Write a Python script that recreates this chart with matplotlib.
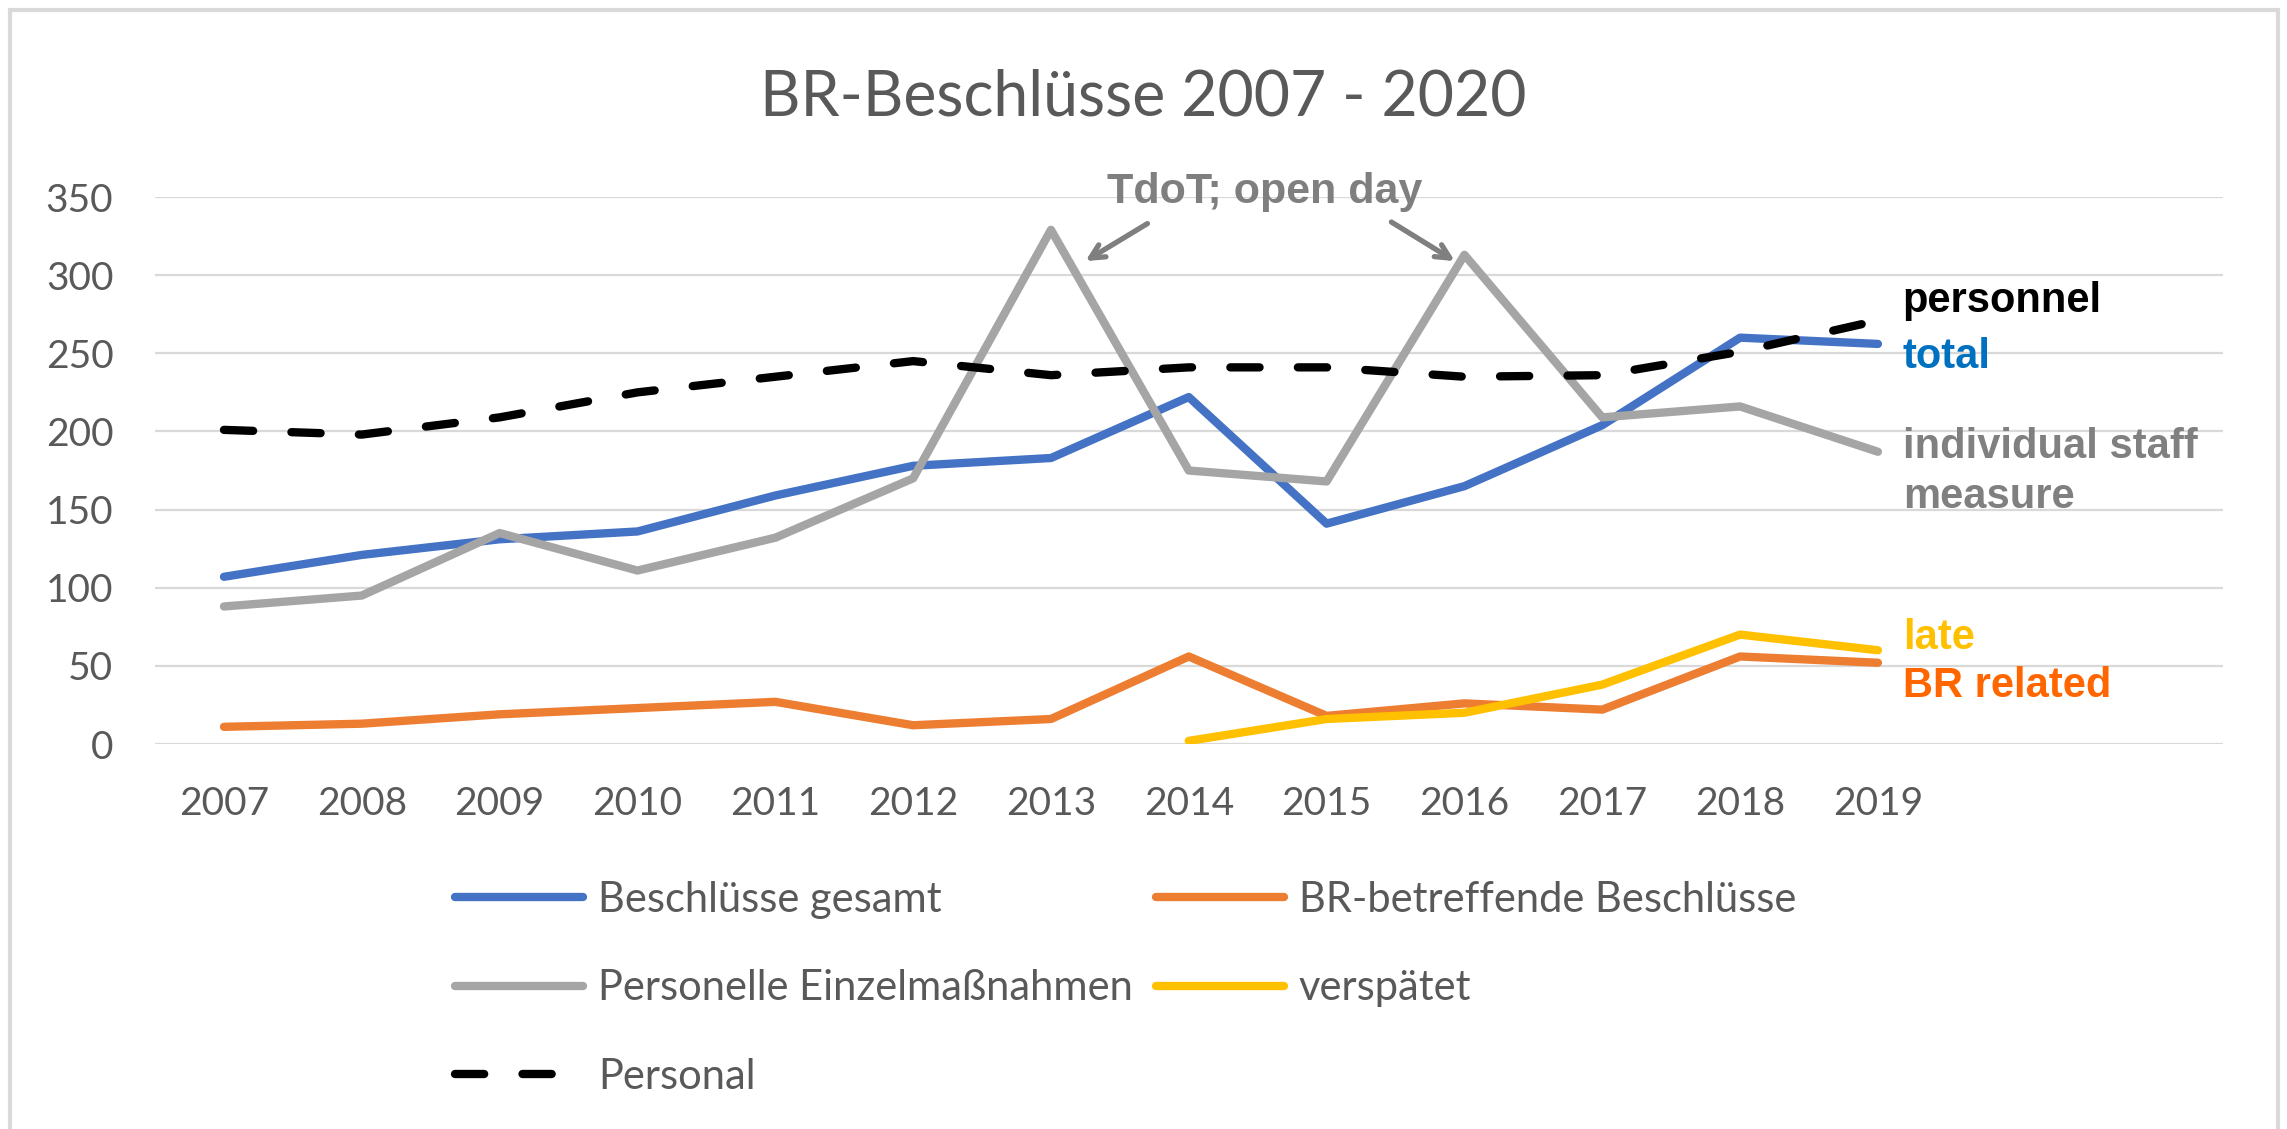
import matplotlib
matplotlib.use("Agg")
import matplotlib.pyplot as plt
from matplotlib.patches import Rectangle

# ---------------------------------------------------------------------------
# Data
# ---------------------------------------------------------------------------
years = [2007, 2008, 2009, 2010, 2011, 2012, 2013,
         2014, 2015, 2016, 2017, 2018, 2019]
gesamt = [107, 121, 131, 136, 159, 178, 183, 222, 141, 165, 204, 260, 256]
br_betreffend = [11, 13, 19, 23, 27, 12, 16, 56, 18, 26, 22, 56, 52]
einzelmassnahmen = [88, 95, 135, 111, 132, 170, 329, 175, 168, 313, 209, 216, 187]
years_late = [2014, 2015, 2016, 2017, 2018, 2019]
verspaetet = [2, 16, 20, 38, 70, 60]
personal = [201, 198, 209, 225, 235, 245, 236, 241, 241, 235, 236, 251, 271]

title = "BR-Beschlüsse 2007 - 2020"
legend_labels = ["Beschlüsse gesamt", "BR-betreffende Beschlüsse",
                 "Personelle Einzelmaßnahmen", "verspätet", "Personal"]

# ---------------------------------------------------------------------------
# Style
# ---------------------------------------------------------------------------
COL_BLUE = "#4472C4"
COL_ORANGE = "#ED7D31"
COL_GRAY = "#A5A5A5"
COL_YELLOW = "#FFC000"
TEXT_COL = "#595959"
GRID_COL = "#D9D9D9"
LW = 6.0
BODY_FONT = "Lato"
NOTE_FONT = "Liberation Sans"

fig = plt.figure(figsize=(22.87, 11.29), dpi=100)
ax = fig.add_axes([0.0678, 0.341, 0.904, 0.4845])

# outer chart border
fig.patches.append(Rectangle((10 / 2287, -0.05), 2268 / 2287, 1.05 - 10 / 1129,
                             transform=fig.transFigure, fill=False,
                             edgecolor=GRID_COL, linewidth=3))

line_kw = dict(lw=LW, solid_capstyle="round", solid_joinstyle="round", zorder=3)
ax.plot(years, gesamt, color=COL_BLUE, label=legend_labels[0], **line_kw)
ax.plot(years, br_betreffend, color=COL_ORANGE, label=legend_labels[1], **line_kw)
ax.plot(years, einzelmassnahmen, color=COL_GRAY, label=legend_labels[2], **line_kw)
ax.plot(years_late, verspaetet, color=COL_YELLOW, label=legend_labels[3], **line_kw)
ax.plot(years, personal, color="black", lw=LW, linestyle=(0, (3.5, 4.6)),
        dash_capstyle="round", label=legend_labels[4], zorder=4)

ax.set_xlim(2006.5, 2021.5)
ax.set_ylim(0, 350)
ax.set_xticks(years)
ax.set_xticklabels([str(y) for y in years])
ax.set_yticks(range(0, 351, 50))
ax.yaxis.grid(True, color=GRID_COL, linewidth=1.6)
ax.set_axisbelow(True)
for s in ax.spines.values():
    s.set_visible(False)
ax.tick_params(axis="both", length=0, labelcolor=TEXT_COL, labelsize=28)
ax.tick_params(axis="y", pad=30)
ax.tick_params(axis="x", pad=30)
for lab in ax.get_xticklabels() + ax.get_yticklabels():
    lab.set_fontfamily(BODY_FONT)

fig.text(0.5, 1 - 97 / 1129, title, ha="center", va="center",
         fontsize=45, color=TEXT_COL, family=BODY_FONT)

# annotation: open day peaks
ax.text(2014.55, 353, "TdoT; open day", ha="center", va="center",
        fontsize=31, fontweight="bold", color="#7F7F7F", family=NOTE_FONT,
        clip_on=False)
arrow_kw = dict(arrowstyle="->,head_length=1.0,head_width=0.5",
                color="#7F7F7F", lw=3.8, shrinkA=0, shrinkB=0)
ax.annotate("", xy=(2013.25, 309), xytext=(2013.70, 333),
            arrowprops=arrow_kw, annotation_clip=False)
ax.annotate("", xy=(2015.93, 309), xytext=(2015.47, 334),
            arrowprops=arrow_kw, annotation_clip=False)

# series labels at the right
label_kw = dict(ha="left", va="center", fontsize=30, fontweight="bold",
                family=NOTE_FONT, clip_on=False)
ax.text(2019.18, 283.5, "personnel", color="black", **label_kw)
ax.text(2019.18, 247.5, "total", color="#0070C0", **label_kw)
ax.text(2019.18, 174, "individual staff\nmeasure", color="#808080",
        linespacing=1.3, **label_kw)
ax.text(2019.18, 68, "late", color=COL_YELLOW, **label_kw)
ax.text(2019.18, 37, "BR related", color="#FF6600", **label_kw)

# legend: Excel order row by row -> column-major for matplotlib
handles, labels = ax.get_legend_handles_labels()
order = [0, 2, 4, 1, 3]
leg = fig.legend([handles[i] for i in order], [labels[i] for i in order],
                 ncol=2, loc="upper left",
                 bbox_to_anchor=(455 / 2287, 1 - 881 / 1129),
                 frameon=False, borderpad=0, borderaxespad=0,
                 handlelength=3.08, handletextpad=0.35, columnspacing=0.55,
                 labelspacing=1.21, prop={"family": BODY_FONT, "size": 30})
for t in leg.get_texts():
    t.set_color(TEXT_COL)

fig.savefig("out.png", dpi=100, facecolor="white")
